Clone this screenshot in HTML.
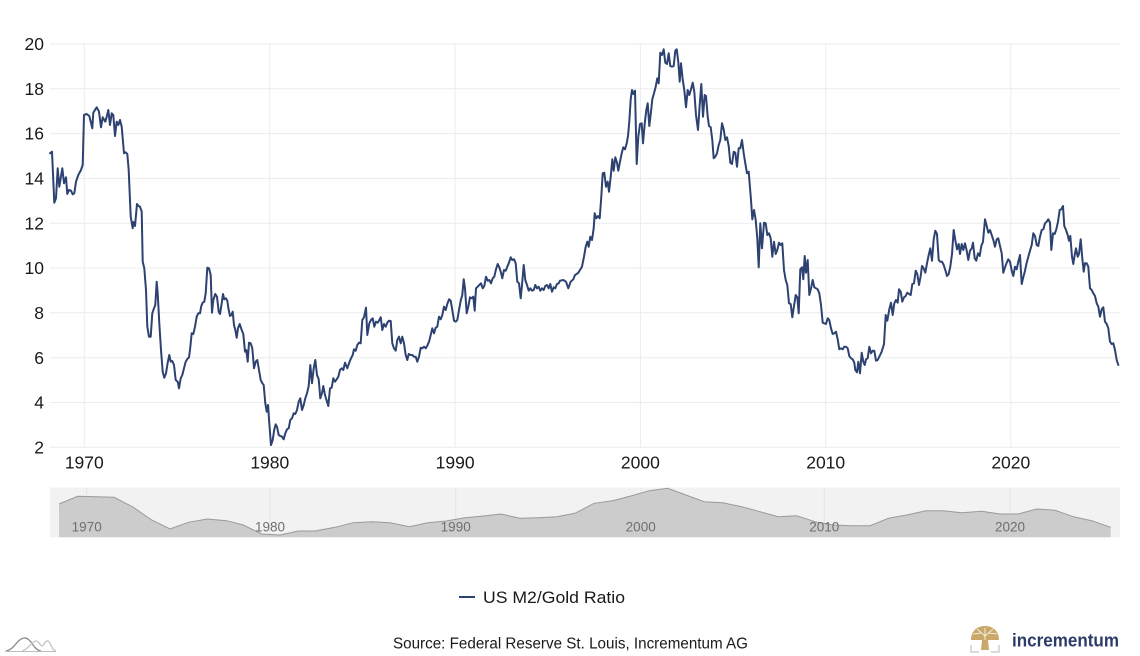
<!DOCTYPE html>
<html>
<head>
<meta charset="utf-8">
<style>
html,body{margin:0;padding:0;background:#fff;}
svg{display:block;}
text{font-family:"Liberation Sans",Arial,sans-serif;}
</style>
</head>
<body>
<svg width="1140" height="656" viewBox="0 0 1140 656" xmlns="http://www.w3.org/2000/svg">
<rect x="0" y="0" width="1140" height="656" fill="#fff"/>

<!-- horizontal grid -->
<g stroke="#ececec" stroke-width="1">
<line x1="50" y1="43.9" x2="1120" y2="43.9"/>
<line x1="50" y1="88.7" x2="1120" y2="88.7"/>
<line x1="50" y1="133.6" x2="1120" y2="133.6"/>
<line x1="50" y1="178.4" x2="1120" y2="178.4"/>
<line x1="50" y1="223.2" x2="1120" y2="223.2"/>
<line x1="50" y1="268.0" x2="1120" y2="268.0"/>
<line x1="50" y1="312.8" x2="1120" y2="312.8"/>
<line x1="50" y1="357.7" x2="1120" y2="357.7"/>
<line x1="50" y1="402.5" x2="1120" y2="402.5"/>
<line x1="50" y1="447.3" x2="1120" y2="447.3"/>
</g>
<!-- vertical grid -->
<g stroke="#ececec" stroke-width="1">
<line x1="84.3" y1="43.9" x2="84.3" y2="447.3"/>
<line x1="269.8" y1="43.9" x2="269.8" y2="447.3"/>
<line x1="455.1" y1="43.9" x2="455.1" y2="447.3"/>
<line x1="640.4" y1="43.9" x2="640.4" y2="447.3"/>
<line x1="825.7" y1="43.9" x2="825.7" y2="447.3"/>
<line x1="1010.8" y1="43.9" x2="1010.8" y2="447.3"/>
</g>

<!-- y labels -->
<g font-size="17.5" fill="#1a1a1a" text-anchor="end">
<text x="44" y="50">20</text>
<text x="44" y="94.8">18</text>
<text x="44" y="139.7">16</text>
<text x="44" y="184.5">14</text>
<text x="44" y="229.3">12</text>
<text x="44" y="274.1">10</text>
<text x="44" y="318.9">8</text>
<text x="44" y="363.8">6</text>
<text x="44" y="408.6">4</text>
<text x="44" y="453.4">2</text>
</g>
<!-- x labels -->
<g font-size="17.5" fill="#1a1a1a" text-anchor="middle">
<text x="84.3" y="468.5">1970</text>
<text x="269.8" y="468.5">1980</text>
<text x="455.1" y="468.5">1990</text>
<text x="640.4" y="468.5">2000</text>
<text x="825.7" y="468.5">2010</text>
<text x="1010.8" y="468.5">2020</text>
</g>

<!-- series -->
<polyline fill="none" stroke="#2d4271" stroke-width="2" stroke-linejoin="round" stroke-linecap="round" points="
50,153.3 52,151.7 54.3,202.7 56,198.3 57.7,168.3 59.3,186.7 62.3,168.3 64,183.3 66,177.3 67.3,194 69,190 71,190.7 72.7,194.3 74.3,193.3 76,181.7 78.3,175 81,170 82.7,165 84,115 86.7,114 89.3,116 92.3,128.3 93.3,112.7 96.7,107.3 99,111.7 101,127.3 102.7,117.3 105.3,121.7 106.7,116.7 108.3,110 110,125 111.7,113.3 113.3,115 115,136 116.7,121.7 118.3,125 120,120 121.7,126.7 124,153.3 125.7,152.3 127.3,154 128.7,170 130.7,216.7 132.7,228.3 133.5,222 135,226 137,204 138.5,206 140,206.7 141.7,211.7
142.7,261.7 144.3,268.3 146,290 147.3,326.7 149,336.7 150.7,336.7 152.3,313.3 154,308.3 155.3,305 156.7,281.7 157.7,293.3 159.3,323.3 161,350 162.7,371.7 164.3,377.7 166,373.3 167.7,362.7 169.3,355 170.7,361.7 172.3,361 174,365 175.7,380 177.7,381.7 179,388.3 180.7,378.3 182.3,375 184,368.3 185.7,361.7 187.3,359 189,357.3 190,350 191.7,333.3 193.3,334 195,326.7 196.7,316.7 198.3,313.3 200,313.3 201.3,306 202.7,302.7 204.3,301.7 205.7,293.3 207.3,267.7 209,268.3 210.7,275 212,312.7 213.3,300 215.3,294 217,296.7 218.7,311.7 220,314 221.7,303.3 223,294 224.3,299.3 226,298.3 227.3,300.7 228.7,310 230,316 231.3,315 232.7,311.7 234,325 235.3,330 236.7,337.7 238,328.3 239.7,324 241.7,330 243.3,334 245,351.7 246.3,350 247.7,361.7 249,342.7 250.7,343.3 252.3,348.3 254,368.3 255.7,361.7 257.3,360 259,370 260.7,380 262.3,383.3 263.7,385 265.3,403.3 266.7,411.7 268,405 269.3,423.3 271,445 272.7,440 274.3,429.3 275.7,424.3 277,426.7 278.7,435 280.3,436 282,436.7 283.7,439.3 285.3,433.3 287,429.3 288.7,428.3 290.3,420 292,418.3 293.7,413.3 295.3,414 297,410 298.7,401.7 300.3,398.3 302,410 303.7,405 305.3,398.3 307,393.3 308.7,386 310.3,365 312,383.3 313.7,368.3 315.3,360 317,375 318.7,379.3 320.3,398.3 322,393.3 323.3,386 325,395 326.7,400.7 328.3,406 330,388.3 331.7,387.7 333.3,378.3 335,381.7 336.7,379.3 338.3,376.7
340,370 341.7,368.3 343.3,370 345,362.7 347.3,368.3 349,363.3 351,358.3 352.7,355 354,349.3 355.7,350.7 357.3,345 359,342.7 360.7,343.3 362.3,320 364,317.3 366,307.7 367.3,335 369.3,323.3 371,320 372.7,318.3 374.3,326.7 376,321.7 377.7,322.7 379.3,320 380.7,317.3 382.3,330 384,324 385.7,326.7 387.3,322.7 389,320.7 390.7,321 392.3,343.3 394,348.3 395.7,350.7 397.3,340 399,336.7 400.7,343.3 402.3,336.7 404,343.3 405.7,355 407.3,360 408.7,354 410.7,355 412.3,355 414,356.7 415.7,356.7 417.3,361.7 419,356.7 420.7,347.7 422.3,348.3 424,346.7 425.7,348.3 427.3,345.7 429,341.7 430.7,335 432.3,328.3 434,333.3 435.7,327.7 437.3,326.7 439,316.7 440.7,319.3 442.3,315 444,306.7 445.7,310 447.3,304 449,299.3 450.7,300.7 452.3,310 454,320.7 455.7,321.7 457.3,320 459,310 460.7,300.7 462.3,295 463.7,279.3 465,288.3 466.7,313.3 468.3,306.7 470,297.3 471.7,298.3 473.3,296.7 474.7,310.7 476,288.3 477.7,286.7 479.3,285 481,283.3 482.7,288.3 484.3,286 486,276.7 487.7,280.7 489.3,280 491,283.3 492.7,278.3 494.3,276.7 496,269.3 497.7,264 499.3,267.3 500.7,271.7 502.3,278.3 504,270 505.7,270.7 507.3,266.7 509,262.7 510.7,257.3 512.3,260 514,259.3 515.7,263.3 517.3,281.7 519,283.3 520.7,298.3 522.3,281.7 523.7,265 525.3,280 527,285 528.7,290.7 530.3,288.3 532,290.7 533.7,290 535.3,285 537,288.3 538.7,286.7 540.3,290.7 542,288.3 543.7,290 545.3,286 547,285 548.7,288.3 550.3,284 552,291.7 553.7,287.3 555.3,288.3 557,284 558.7,283.3
560,280.7 563.3,280 566,281.7 568.3,288.3 570.7,281.7 573.3,279.3 575,275 576.7,274 578.3,272.7 580,270 582,266.7 584,256.7 585.7,246.7 587.3,241.7 588.7,246.7 590.3,236.7 592,240 593.7,228.3 594.7,213.3 596.3,218.3 598,216 599.7,218.3 601.3,196.7 602.7,173.3 604.3,172.7 606,186.7 607.7,181.7 609,191.7 610.7,176.7 612.3,159.3 613.7,170.7 615.3,157.3 617,162.7 618.3,170.7 620,161.7 621.7,153.3 623.3,147.3 625,149.3 626.7,143.3 628,136 629.3,121.7 630.7,99.3 632,90 633.3,94 635,90.7 636.7,164 638.3,136.7 640,124 641.7,123.3 643,143.3 644.7,124 646.3,110 647.7,103.3 649.3,126 651,111.7 652.3,99.3 654,93.3 655.7,86.7 657.3,78.3 658.7,83.3 660.3,52.7 662,55 663.7,49.3 665.3,62.7 667,64 668.7,53.3 670.3,66 672,66.7 673.7,66 675.3,50.7 676.7,49.3 678.3,61.7 679.7,81.7 681,63.3 682.7,79.3 684.3,90 686,107.3 687.7,90 689.3,95 691,89.3 692.7,82.7 694.3,91.7 696,115 698,130 699.7,105 701.3,84 703,116.7 704.7,95 706,96 707.7,116.7 709,126 710.7,127.3 712.3,140 713.7,158.3 715.3,156.7 717,153.3 718.7,145 720.3,140 722,123.3 723.7,129.3 725.3,140 727,137.3 728.7,146 730.3,162.7 732,164 733.7,151.7 735.3,152.7 737,166.7 738.7,148.3 740.3,148.3 742,140 743.7,153.3 745.3,163.3 747,173.3 748.7,171.7
751,200 752.3,219.3 754,210 755.7,220 757.3,238.3 758.7,267.3 760.3,223.3 762,248.3 764,222.7 765.7,223.3 767.3,235 769,233.3 770.7,238.3 772.3,256.7 774,241.7 775.7,254 777.3,250 779,242.7 780.7,245 782.3,243.3 784,270 785.7,280 787.3,285 789,303.3 790.7,304 792.3,317.3 794,306 795.7,295 797.3,297.3 798.7,313.3 800.3,269.3 802,267.3 803.3,279.3 804.7,256 806,272.7 807.7,260 809.3,295 811,288.3 812.7,280 814.3,287.3 816,288.3 817.7,289.3 819.3,293.3 821,305 822.7,322.7 824.3,323.3 826,324 827.7,318.3 829.3,320 831,328.3 832.7,334 834.3,333.3 836,331.7 837.7,339.3 839.3,349.3 841,348.3 842.7,349.3 844.3,346.7 846,346.7 847.7,348.3 849.3,356 851,358.3 852.7,359.3 854.3,362.7 855.3,370 857,372.3 858.3,361.7 860,373.3 861.7,352.7 863.3,361.7 864.7,365 866,359.3 867.7,358.3 869.3,346.7 871,353.3 872.7,350.7 874.3,350.7 876,360.7 877.7,360 879.3,356.7
881.7,351.7 884,344 885.7,315 887.3,320.7 889.3,309.3 891,302.7 892.7,315 894.3,303.3 896,300 897.7,302.7 899,289.3 900.7,291.7 902.3,301.7 904,297.3 905.7,296 907.3,292.7 909,294 910.7,295 912.3,284 914,283.3 915.7,270.7 917.3,274 919,285 920.7,276 922,266 923.7,268.3 925.3,272.7 927,263.3 928.7,255 930.3,248.3 932,260.7 933.7,239.3 935.3,230.7 937,234 938.7,260 940.3,261.7 942,261.7 943.7,265 945.3,270 947,276 948.7,274 950.3,266.7 952,254 953.7,230 955.3,240 957,249.3 958.7,244 960,254 961.7,244 963.3,250 965,243.3 966.7,250.7 968.3,260 970,250.7 971.7,248.3 973,242.7 974.7,258.3 976.3,260.7 978,253.3 979.7,256 981.3,246 983,241.7 985,219.3 986.7,226 988.3,232.7 990,230 991.7,235 993.3,240 995,246.7 996.7,239.3 998.3,238.3 1000,246 1001.7,253.3 1003.3,272.7 1005,267.3 1006.7,262.7 1008.3,259.3 1010,261.7 1011.7,270.7 1013.3,276 1015,266.7 1016.7,269.3 1018.3,261.7 1020,255 1021.7,284 1023.3,277.3 1025,270.7 1026.7,262.7 1028.3,256.7 1030,250.7 1031.7,245 1033.3,233.3 1035,236 1036.7,245 1038.3,246 1040,236.7 1041.7,230 1043.3,229.3 1045,223.3 1046.7,221.7 1048.3,219.3 1050,222.7 1051.3,250 1053,233.3 1054.7,234 1056.3,229.3 1058,221.7 1059.7,210 1061.3,209.3 1063,206 1064.3,226 1066,230 1067.7,235 1069,240.7 1070.3,236 1072,256.7 1073.3,264 1074.7,255 1076,248.3 1077.7,256.7 1079,254 1080.7,239.3 1082.3,258.3 1083.7,271.7 1085,263.3 1086.7,263.3 1088.3,266.7 1090,288.3 1091.7,290 1093.3,293.3 1095,296 1096.7,303.3 1098.3,306.7 1100,316.7 1101.7,309.3 1103.3,307.3 1105,321.7 1106.7,324 1108.3,328.3 1110,341.7 1111.7,344 1113.3,343.3 1115,350 1116.7,360 1118.3,365"/>

<!-- navigator -->
<rect x="50" y="487.5" width="1070" height="49.7" fill="#f2f2f2"/>
<g stroke="#e4e4e4" stroke-width="1">
<line x1="86.7" y1="487.5" x2="86.7" y2="537.2"/>
<line x1="270" y1="487.5" x2="270" y2="537.2"/>
<line x1="455.7" y1="487.5" x2="455.7" y2="537.2"/>
<line x1="640.7" y1="487.5" x2="640.7" y2="537.2"/>
<line x1="824.3" y1="487.5" x2="824.3" y2="537.2"/>
<line x1="1010" y1="487.5" x2="1010" y2="537.2"/>
</g>
<path fill="#cccccc" stroke="none" d="M59,537.2 L59,504 77.7,496.3 96.7,496.7 114.3,497.3 133.3,507.3 151.7,520 170,529 188.3,522.3 207.3,519 226.7,520.7 243.3,525 261.7,534 280,535 298.3,531 315,531 335,527.3 353.3,522.7 371.7,521.7 390,522.7 409.3,526.7 427.7,522.7 446,521 465,517.7 483.3,516 501,514 520,518.3 538.3,517.7 556.7,516.7 575,513.3 594,503.3 612.7,500.7 630.7,496 649.3,490.7 667.7,488.3 686,495 704.3,501.7 722.7,502.7 741.7,506.7 760,511.7 778.3,516.7 796.7,515.7 815,521.7 833.3,525 851.7,525.7 870,525.7 888.3,518.3 906.7,515 926,510.7 943.3,510.7 961.7,512.7 981.7,511.3 1000,514 1018.3,514 1036.7,509 1055,510.3 1073.3,516.7 1091.7,520.7 1110.7,527.3 L1110.7,537.2 Z"/>
<polyline fill="none" stroke="#9a9a9a" stroke-width="1" points="59,504 77.7,496.3 96.7,496.7 114.3,497.3 133.3,507.3 151.7,520 170,529 188.3,522.3 207.3,519 226.7,520.7 243.3,525 261.7,534 280,535 298.3,531 315,531 335,527.3 353.3,522.7 371.7,521.7 390,522.7 409.3,526.7 427.7,522.7 446,521 465,517.7 483.3,516 501,514 520,518.3 538.3,517.7 556.7,516.7 575,513.3 594,503.3 612.7,500.7 630.7,496 649.3,490.7 667.7,488.3 686,495 704.3,501.7 722.7,502.7 741.7,506.7 760,511.7 778.3,516.7 796.7,515.7 815,521.7 833.3,525 851.7,525.7 870,525.7 888.3,518.3 906.7,515 926,510.7 943.3,510.7 961.7,512.7 981.7,511.3 1000,514 1018.3,514 1036.7,509 1055,510.3 1073.3,516.7 1091.7,520.7 1110.7,527.3"/>
<g font-size="13.5" fill="#6f6f6f" text-anchor="middle">
<text x="86.7" y="531.5">1970</text>
<text x="270" y="531.5">1980</text>
<text x="455.7" y="531.5">1990</text>
<text x="640.7" y="531.5">2000</text>
<text x="824.3" y="531.5">2010</text>
<text x="1010" y="531.5">2020</text>
</g>

<!-- legend -->
<line x1="459" y1="597" x2="475" y2="597" stroke="#2d4271" stroke-width="2"/>
<text x="483" y="603" font-size="16.5" fill="#1a1a1a" textLength="142" lengthAdjust="spacingAndGlyphs">US M2/Gold Ratio</text>

<!-- source -->
<text x="393" y="648.5" font-size="15.5" fill="#1a1a1a" textLength="355" lengthAdjust="spacingAndGlyphs">Source: Federal Reserve St. Louis, Incrementum AG</text>

<!-- left small logo -->
<g fill="none" stroke-width="1.3">
<path d="M6,651 C14,650 17,639 24,638 C31,637 33,650 41,651" stroke="#8a8a8a"/>
<path d="M22,651 C28,650 32,641 36,641 C39,641 40,646 42,646 C44,646 45,640 48,641 C51,642 51,650 56,651" stroke="#c4c4c4"/>
<line x1="5" y1="651.5" x2="56" y2="651.5" stroke="#bdbdbd" stroke-width="1"/>
</g>

<!-- incrementum logo -->
<g>
<path d="M971,640 C971,632 976,626 985,626 C994,626 999,632 999,640 Z" fill="#c9a86a"/>
<g stroke="#fff" stroke-width="0.8" fill="none">
<path d="M985,640 L985,628"/>
<path d="M985,636 L977,629"/>
<path d="M985,636 L993,629"/>
<path d="M981,633 L973,634"/>
<path d="M989,633 L997,634"/>
</g>
<path d="M982,640 L988,640 L989,650 L981,650 Z" fill="#c9a86a"/>
<path d="M971,645 L971,652 L979,652" stroke="#cfcfcf" stroke-width="1.5" fill="none"/>
<path d="M999,645 L999,652 L991,652" stroke="#cfcfcf" stroke-width="1.5" fill="none"/>
<text x="1012" y="646.5" font-size="18.5" font-weight="bold" fill="#2c3b68" textLength="107" lengthAdjust="spacingAndGlyphs">incrementum</text>
</g>
</svg>
</body>
</html>
